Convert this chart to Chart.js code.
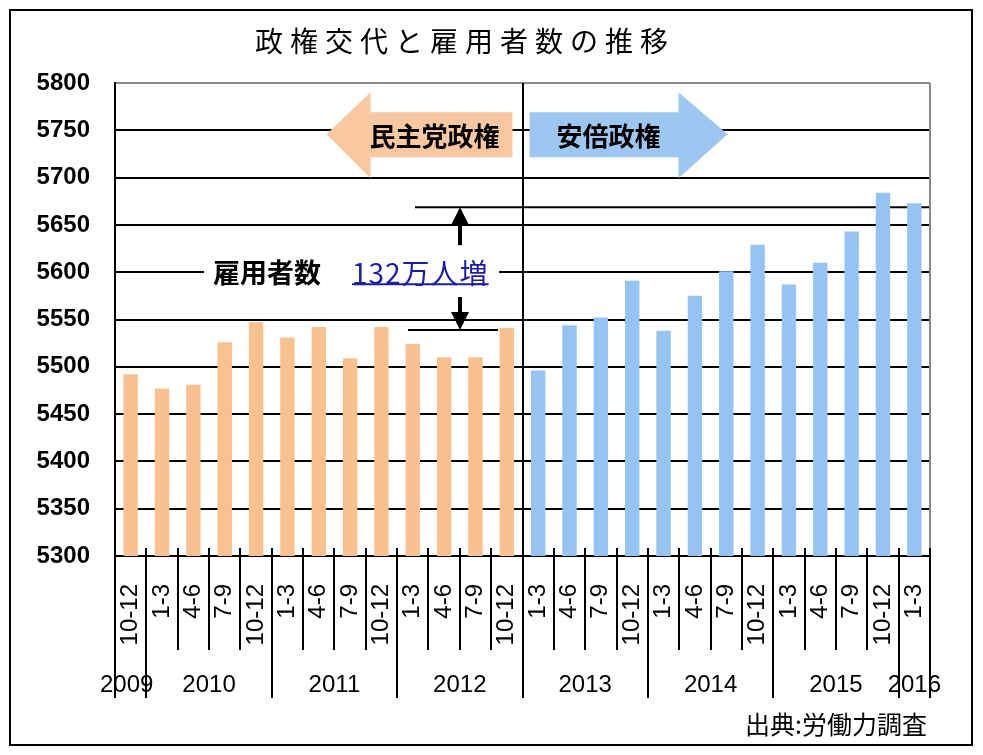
<!DOCTYPE html>
<html><head><meta charset="utf-8">
<script src="https://cdn.jsdelivr.net/npm/chart.js@4.4.0/dist/chart.umd.min.js"></script>
<style>html,body{margin:0;padding:0;background:#fff;overflow:hidden}#wrap{width:983px;height:755px;position:relative}</style>
</head><body><div id="wrap"><canvas id="c"></canvas></div>
<script>
const chartTitle = '政権交代と雇用者数の推移';
const quarterLabels = ['10-12','1-3','4-6','7-9','10-12','1-3','4-6','7-9','10-12','1-3','4-6','7-9','10-12','1-3','4-6','7-9','10-12','1-3','4-6','7-9','10-12','1-3','4-6','7-9','10-12','1-3'];
const yearLabels = ['2009','2010','2011','2012','2013','2014','2015','2016'];
const yearStartIndex = [0,1,5,9,13,17,21,25];
const demoValues = [5492,5477,5481,5526,5547,5531,5542,5509,5542,5524,5510,5510,5541];
const abeValues  = [5496,5544,5552,5591,5538,5575,5601,5629,5587,5610,5643,5684,5673];
const yMin = 5300, yMax = 5800, yStep = 50;
const demoLabel = '民主党政権';
const abeLabel = '安倍政権';
const noteLabel = '雇用者数';
const noteValue = '132万人増';
const noteLevel = 5600;
const arrowLevel = 5750;
const sourceText = '出典:労働力調査';

const ORANGE = '#FAC190', BLUE = '#96C4F2';
const ORANGE_ARROW = '#F9C8A0', BLUE_ARROW = '#9DC7F1';

const n = quarterLabels.length;
const demoData = demoValues.concat(new Array(n - demoValues.length).fill(null));
const abeData = new Array(n - abeValues.length).fill(null).concat(abeValues);
const splitIndex = demoValues.length;

const deco = {
  id: 'deco',
  beforeDraw(chart) {
    const ctx = chart.ctx;
    ctx.save(); ctx.fillStyle = '#fff'; ctx.fillRect(0, 0, chart.width, chart.height); ctx.restore();
  },
  beforeDatasetsDraw(chart) {
    const {ctx, chartArea: a, scales: {y}} = chart;
    ctx.save();
    const yn = y.getPixelForValue(noteLevel);
    ctx.fillStyle = '#fff';
    ctx.fillRect(204, yn - 4, 295, 8);
    ctx.strokeStyle = '#000'; ctx.lineWidth = 2;
    const yTop = y.getPixelForValue(abeValues[abeValues.length - 1]) + 4;
    const yBot = y.getPixelForValue(demoValues[demoValues.length - 1]) + 2;
    ctx.beginPath(); ctx.moveTo(415, yTop); ctx.lineTo(a.right, yTop); ctx.stroke();
    ctx.beginPath(); ctx.moveTo(408, yBot); ctx.lineTo(498, yBot); ctx.stroke();
    const ax = 460;
    ctx.fillStyle = '#000';
    ctx.beginPath(); ctx.moveTo(ax, yTop); ctx.lineTo(ax - 9, yTop + 18); ctx.lineTo(ax + 9, yTop + 18); ctx.closePath(); ctx.fill();
    ctx.lineWidth = 4;
    ctx.beginPath(); ctx.moveTo(ax, yTop + 16); ctx.lineTo(ax, yTop + 38); ctx.stroke();
    ctx.beginPath(); ctx.moveTo(ax, yBot); ctx.lineTo(ax - 9, yBot - 18); ctx.lineTo(ax + 9, yBot - 18); ctx.closePath(); ctx.fill();
    ctx.beginPath(); ctx.moveTo(ax, yBot - 16); ctx.lineTo(ax, yBot - 33); ctx.stroke();
    ctx.restore();
  },
  afterDraw(chart) {
    const {ctx, chartArea: a, scales: {x, y}} = chart;
    const catW = (a.right - a.left) / n;
    const bx = k => a.left + k * catW;
    ctx.save();
    ctx.strokeStyle = '#8a8a8a'; ctx.lineWidth = 2;
    ctx.beginPath(); ctx.moveTo(a.right, a.top); ctx.lineTo(a.right, a.bottom); ctx.stroke();
    const longK = yearStartIndex.concat([n]);
    ctx.strokeStyle = '#000'; ctx.lineWidth = 2;
    for (let k = 0; k <= n; k++) {
      const xx = Math.round(bx(k));
      const isLong = longK.includes(k);
      ctx.beginPath();
      ctx.moveTo(xx, k === splitIndex ? a.top : (k === 0 ? a.bottom : a.bottom - 8));
      ctx.lineTo(xx, isLong ? 698 : 650);
      ctx.stroke();
    }
    ctx.fillStyle = '#000';
    ctx.font = '24px "Liberation Sans", Arial, sans-serif';
    ctx.textAlign = 'center'; ctx.textBaseline = 'middle';
    yearLabels.forEach((yl, i) => {
      const s = yearStartIndex[i];
      const e = i + 1 < yearStartIndex.length ? yearStartIndex[i + 1] : n;
      const off = i === 0 ? -4 : 0;
      ctx.fillText(yl, (bx(s) + bx(e)) / 2 + off, 685);
    });
    const dx = bx(splitIndex);
    const cy = y.getPixelForValue(arrowLevel) + 4;
    ctx.fillStyle = ORANGE_ARROW;
    ctx.beginPath();
    ctx.moveTo(dx - 196, cy);
    ctx.lineTo(dx - 152, cy - 42); ctx.lineTo(dx - 152, cy - 22);
    ctx.lineTo(dx - 10, cy - 22); ctx.lineTo(dx - 10, cy + 23);
    ctx.lineTo(dx - 152, cy + 23); ctx.lineTo(dx - 152, cy + 44);
    ctx.closePath(); ctx.fill();
    ctx.fillStyle = BLUE_ARROW;
    ctx.beginPath();
    ctx.moveTo(dx + 205, cy);
    ctx.lineTo(dx + 156, cy - 42); ctx.lineTo(dx + 156, cy - 22);
    ctx.lineTo(dx + 7, cy - 22); ctx.lineTo(dx + 7, cy + 23);
    ctx.lineTo(dx + 156, cy + 23); ctx.lineTo(dx + 156, cy + 44);
    ctx.closePath(); ctx.fill();
    ctx.fillStyle = '#000';
    ctx.font = 'bold 26px "Noto Sans CJK JP", sans-serif';
    ctx.textAlign = 'center'; ctx.textBaseline = 'middle';
    ctx.fillText(demoLabel, dx - 88, cy + 2);
    ctx.fillText(abeLabel, dx + 86, cy + 2);
    const yn = y.getPixelForValue(noteLevel);
    ctx.font = 'bold 27px "Noto Sans CJK JP", sans-serif';
    ctx.textAlign = 'left';
    ctx.fillText(noteLabel, 213, yn + 1);
    ctx.fillStyle = '#1c1ca8';
    ctx.font = '28px "Noto Sans CJK JP", sans-serif';
    try { ctx.letterSpacing = '1px'; } catch (e) {}
    ctx.fillText(noteValue, 352, yn + 1);
    const w = ctx.measureText(noteValue).width;
    try { ctx.letterSpacing = '0px'; } catch (e) {}
    ctx.strokeStyle = '#1c1ca8'; ctx.lineWidth = 2;
    ctx.beginPath(); ctx.moveTo(352, yn + 12); ctx.lineTo(352 + w, yn + 12); ctx.stroke();
    ctx.fillStyle = '#000';
    ctx.font = '28px "Noto Sans CJK JP", sans-serif';
    ctx.textAlign = 'center'; ctx.textBaseline = 'middle';
    try { ctx.letterSpacing = '7px'; } catch (e) {}
    ctx.fillText(chartTitle, 465, 41);
    try { ctx.letterSpacing = '0px'; } catch (e) {}
    ctx.font = '25px "Noto Sans CJK JP", sans-serif';
    ctx.textAlign = 'right';
    ctx.fillText(sourceText, 927, 724);
    ctx.strokeStyle = '#000'; ctx.lineWidth = 2;
    ctx.strokeRect(10, 10, 962, 735);
    ctx.restore();
  }
};

new Chart(document.getElementById('c'), {
  type: 'bar',
  data: {
    labels: quarterLabels,
    datasets: [
      { label: demoLabel, data: demoData, backgroundColor: ORANGE, grouped: false, barPercentage: 0.46, categoryPercentage: 1.0 },
      { label: abeLabel, data: abeData, backgroundColor: BLUE, grouped: false, barPercentage: 0.46, categoryPercentage: 1.0 }
    ]
  },
  options: {
    responsive: true,
    maintainAspectRatio: false,
    animation: false,
    devicePixelRatio: 1,
    layout: { padding: { top: 83, right: 53, left: 0, bottom: 0 } },
    plugins: { legend: { display: false }, title: { display: false }, tooltip: { enabled: false } },
    scales: {
      x: {
        grid: { display: false, drawTicks: false },
        border: { display: true, color: '#000', width: 2 },
        ticks: {
          autoSkip: false, maxRotation: 90, minRotation: 90, padding: 28,
          color: '#000', font: { family: '"Liberation Sans", Arial, sans-serif', size: 24 }
        },
        afterFit: s => { s.height = 199; }
      },
      y: {
        min: yMin, max: yMax,
        grid: {
          drawTicks: false,
          color: c => c.tick && c.tick.value === yMax ? '#8a8a8a' : '#000',
          lineWidth: 2
        },
        border: { display: true, color: '#000', width: 2 },
        ticks: {
          stepSize: yStep, padding: 25, color: '#000',
          callback: v => String(v),
          font: { family: '"Liberation Sans", Arial, sans-serif', size: 24, weight: 'bold' }
        },
        afterFit: s => { s.width = 115; }
      }
    }
  },
  plugins: [deco]
});
</script>
</body></html>
